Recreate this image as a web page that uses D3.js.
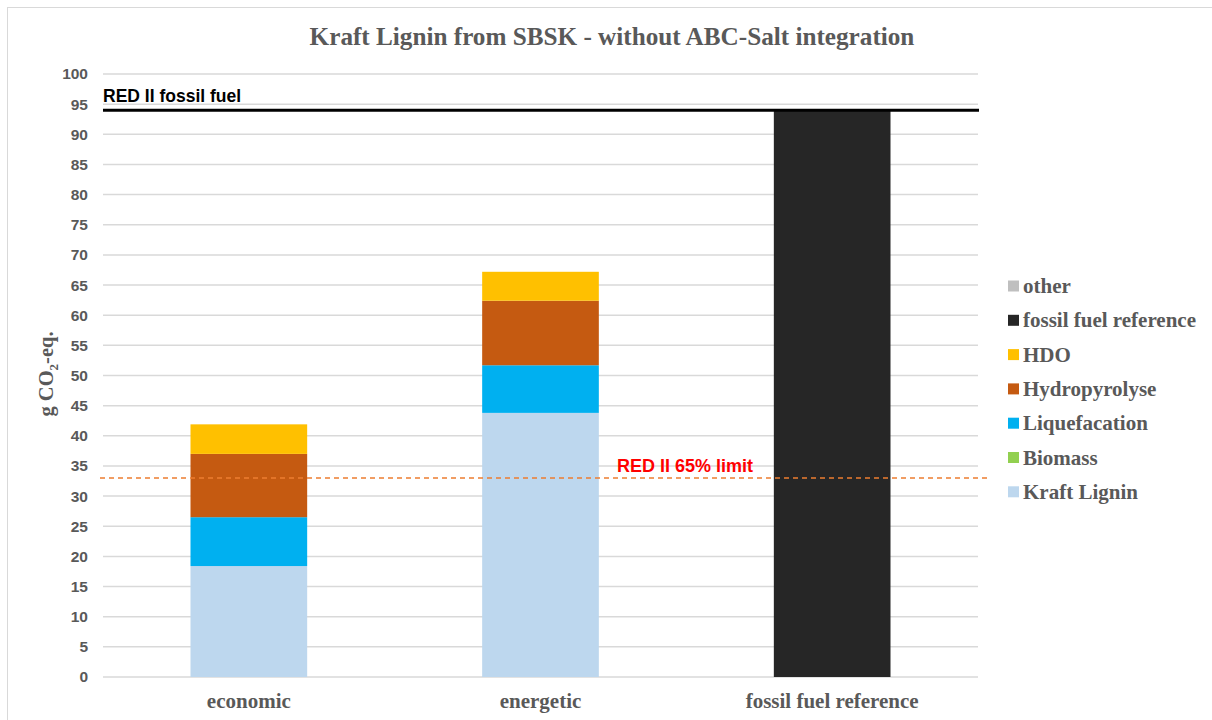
<!DOCTYPE html>
<html>
<head>
<meta charset="utf-8">
<script src="https://cdn.jsdelivr.net/npm/d3@7"></script>
<style>
  html, body { margin: 0; padding: 0; background: #fff; }
  svg { display: block; }
</style>
</head>
<body>
<svg id="chart" width="1212" height="720"></svg>
<script>
// Categories and stacked series (g CO2-eq.)
const categories = ["economic", "energetic", "fossil fuel reference"];
const seriesNames = ["Kraft Lignin", "Biomass", "Liquefacation", "Hydropyrolyse", "HDO", "fossil fuel reference", "other"];
const kraftLignin = [18.4, 43.8, 0];
const biomass = [0, 0, 0];
const liquefacation = [8.1, 7.9, 0];
const hydropyrolyse = [10.5, 10.7, 0];
const hdo = [4.9, 4.8, 0];
const fossilReference = [0, 0, 94];
const other = [0, 0, 0];
const seriesColors = ["#BDD7EE", "#92D050", "#00B0F0", "#C55A11", "#FFC000", "#262626", "#BFBFBF"];
const yTicks = d3.range(0, 101, 5);

// Reference thresholds
const fossilFuelLimit = 94;
const limit65 = 33.0;

const seriesValues = [kraftLignin, biomass, liquefacation, hydropyrolyse, hdo, fossilReference, other];
const rows = categories.map((c, i) => {
  const r = { category: c };
  seriesNames.forEach((s, j) => { r[s] = seriesValues[j][i]; });
  return r;
});

const svg = d3.select("#chart");
const textGray = "#595959";
const serif = "'Liberation Serif', 'Times New Roman', serif";
const sans = "'Liberation Sans', Arial, sans-serif";

// Outer chart frame
svg.append("rect")
  .attr("x", 7.5).attr("y", 7.5)
  .attr("width", 1215).attr("height", 725)
  .attr("fill", "#fff").attr("stroke", "#d9d9d9").attr("stroke-width", 1);

const x = d3.scaleBand().domain(categories).range([103, 978]).paddingInner(0.6).paddingOuter(0.3);
const y = d3.scaleLinear().domain([0, 100]).range([677, 74]);

// Gridlines
svg.append("g")
  .selectAll("line")
  .data(yTicks)
  .join("line")
  .attr("x1", 103).attr("x2", 978)
  .attr("y1", d => y(d)).attr("y2", d => y(d))
  .attr("stroke", "#d9d9d9").attr("stroke-width", 1.5);

// Y axis labels
const yAxis = svg.append("g")
  .attr("transform", "translate(92,0)")
  .call(d3.axisLeft(y).tickValues(yTicks).tickSize(0).tickPadding(4));
yAxis.select(".domain").remove();
yAxis.selectAll("text")
  .attr("fill", textGray)
  .style("font-family", sans)
  .style("font-weight", "bold")
  .style("font-size", "15.5px");

// Stacked bars
const stack = d3.stack().keys(seriesNames)(rows);
svg.append("g")
  .selectAll("g")
  .data(stack)
  .join("g")
  .attr("fill", (d, i) => seriesColors[i])
  .selectAll("rect")
  .data(d => d.filter(p => p[1] - p[0] > 0))
  .join("rect")
  .attr("x", d => x(d.data.category))
  .attr("width", x.bandwidth())
  .attr("y", d => y(d[1]))
  .attr("height", d => y(d[0]) - y(d[1]));

// X axis labels
const xAxis = svg.append("g")
  .attr("transform", "translate(0,677)")
  .call(d3.axisBottom(x).tickSize(0).tickPadding(16));
xAxis.select(".domain").remove();
xAxis.selectAll("text")
  .attr("fill", textGray)
  .style("font-family", serif)
  .style("font-weight", "bold")
  .style("font-size", "21px");

// RED II fossil fuel line
svg.append("line")
  .attr("x1", 103).attr("x2", 979)
  .attr("y1", y(fossilFuelLimit)).attr("y2", y(fossilFuelLimit))
  .attr("stroke", "#000").attr("stroke-width", 3);
svg.append("text")
  .attr("x", 103).attr("y", 102)
  .attr("fill", "#000")
  .style("font-family", sans).style("font-weight", "bold").style("font-size", "17.5px")
  .text("RED II fossil fuel");

// RED II 65% limit line
svg.append("line")
  .attr("x1", 100).attr("x2", 987)
  .attr("y1", y(limit65)).attr("y2", y(limit65))
  .attr("stroke", "#ED7D31").attr("stroke-width", 1.5)
  .attr("stroke-dasharray", "5,4");
svg.append("text")
  .attr("x", 617).attr("y", 472)
  .attr("fill", "#FF0000")
  .style("font-family", sans).style("font-weight", "bold").style("font-size", "18px")
  .text("RED II 65% limit");

// Title
svg.append("text")
  .attr("x", 612).attr("y", 45)
  .attr("text-anchor", "middle")
  .attr("fill", textGray)
  .style("font-family", serif).style("font-weight", "bold").style("font-size", "25.2px")
  .text("Kraft Lignin from SBSK - without ABC-Salt integration");

// Y axis title
const yTitle = svg.append("text")
  .attr("transform", "translate(53,374) rotate(-90)")
  .attr("text-anchor", "middle")
  .attr("fill", textGray)
  .style("font-family", serif).style("font-weight", "bold").style("font-size", "20.5px");
yTitle.append("tspan").text("g CO");
yTitle.append("tspan").attr("dy", 5).style("font-size", "13px").text("2");
yTitle.append("tspan").attr("dy", -5).text("-eq.");

// Legend (reverse stacking order)
const legendItems = seriesNames.map((n, i) => ({ name: n, color: seriesColors[i] })).reverse();
const legend = svg.append("g")
  .selectAll("g")
  .data(legendItems)
  .join("g")
  .attr("transform", (d, i) => `translate(1008,${286 + i * 34.3})`);
legend.append("rect")
  .attr("x", 0).attr("y", -5.5)
  .attr("width", 11).attr("height", 11)
  .attr("fill", d => d.color);
legend.append("text")
  .attr("x", 15).attr("y", 7)
  .attr("fill", textGray)
  .style("font-family", serif).style("font-weight", "bold").style("font-size", "21px")
  .text(d => d.name);
</script>
</body>
</html>
